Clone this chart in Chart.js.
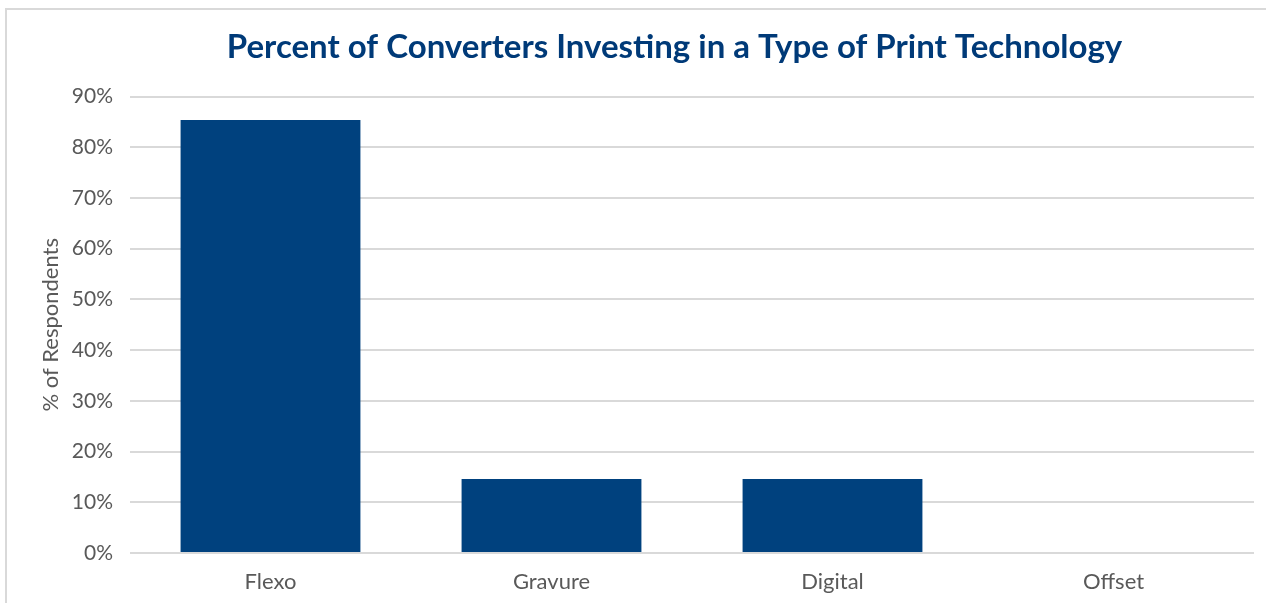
<!DOCTYPE html>
<html>
<head>
<meta charset="utf-8">
<script src="https://cdn.jsdelivr.net/npm/chart.js@4"></script>
<style>
  html, body { margin: 0; padding: 0; background: #fff; }
  #wrap { position: relative; width: 1266px; height: 603px; overflow: hidden; }
  #frame { position: absolute; left: 5px; top: 8px; width: 1400px; height: 700px;
           border-left: 2px solid #d9d9d9; border-top: 2px solid #d9d9d9; }
  canvas { position: absolute; left: 0; top: 0; }
</style>
</head>
<body>
<div id="wrap">
  <div id="frame"></div>
  <canvas id="chart" width="1266" height="603"></canvas>
</div>
<script>
const categories = ["Flexo", "Gravure", "Digital", "Offset"];
const values = [85.4, 14.6, 14.6, 0];
const yTicks = [0, 10, 20, 30, 40, 50, 60, 70, 80, 90];

const ctx = document.getElementById("chart").getContext("2d");

// shift the title centre a bit to the right, like the original
const titleShift = {
  id: "titleShift",
  beforeDraw(chart) {
    const t = chart.titleBlock;
    if (t) { t.left = 83; t.right = 1266; }
  },
};

new Chart(ctx, {
  type: "bar",
  data: {
    labels: categories,
    datasets: [
      {
        data: values,
        backgroundColor: "#00417e",
        categoryPercentage: 1,
        barPercentage: 0.64,
      },
    ],
  },
  options: {
    responsive: false,
    animation: false,
    layout: { padding: { left: 0, right: 12, top: 0, bottom: 0 } },
    plugins: {
      legend: { display: false },
      tooltip: { enabled: false },
      title: {
        display: true,
        text: "Percent of Converters Investing in a Type of Print Technology",
        color: "#003a78",
        font: { family: "Lato", size: 33, weight: "bold" },
        padding: { top: 28, bottom: 29 },
      },
    },
    scales: {
      x: {
        grid: { display: false, drawTicks: false },
        border: { display: false },
        ticks: {
          color: "#595959",
          font: { family: "Lato", size: 22 },
          padding: 16,
        },
        afterFit(scale) { scale.height = 50; },
      },
      y: {
        min: 0,
        max: 90,
        afterBuildTicks(scale) {
          scale.ticks = yTicks.map((v) => ({ value: v }));
        },
        grid: { color: "#d9d9d9", lineWidth: 2, drawTicks: false },
        border: { display: false },
        ticks: {
          color: "#595959",
          font: { family: "Lato", size: 21 },
          padding: 17,
          callback: (v) => v + "%",
        },
        title: {
          display: true,
          text: "% of Respondents",
          color: "#595959",
          font: { family: "Lato", size: 22 },
          padding: { top: 38, bottom: 0 },
        },
        afterFit(scale) { scale.width = 130; },
      },
    },
  },
  plugins: [titleShift],
});
</script>
</body>
</html>
